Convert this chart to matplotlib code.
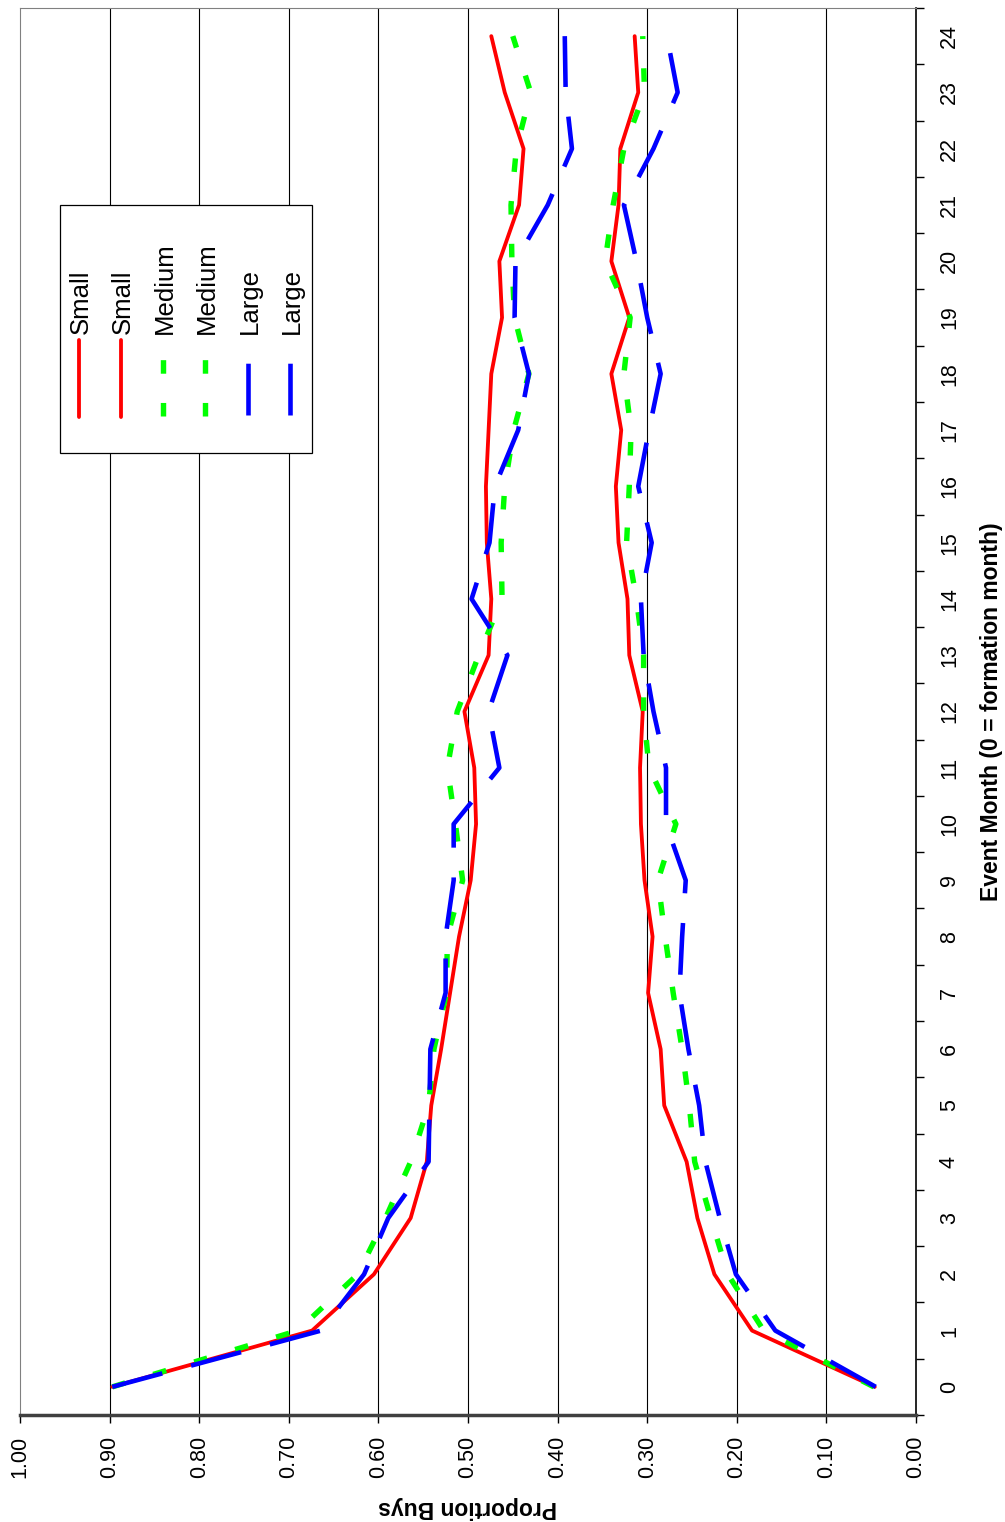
import numpy as np
import matplotlib
matplotlib.use("Agg")
import matplotlib.pyplot as plt
from matplotlib.patches import Rectangle
from matplotlib.lines import Line2D

plt.rcParams['font.family'] = ['Liberation Sans', 'DejaVu Sans']

# event months and proportion of buys
months = list(range(25))

small_hi = [0.897, 0.674, 0.605, 0.564, 0.546, 0.541, 0.530, 0.520, 0.510, 0.497, 0.491, 0.493, 0.504,
            0.477, 0.474, 0.479, 0.480, 0.477, 0.474, 0.462, 0.465, 0.443, 0.438, 0.459, 0.474]
small_lo = [0.046, 0.183, 0.225, 0.244, 0.256, 0.281, 0.285, 0.299, 0.294, 0.303, 0.307, 0.308, 0.305,
            0.320, 0.322, 0.332, 0.335, 0.329, 0.340, 0.320, 0.340, 0.332, 0.330, 0.310, 0.314]
med_hi = [0.897, 0.690, 0.623, 0.592, 0.564, 0.544, 0.538, 0.524, 0.523, 0.506, 0.514, 0.523, 0.512,
          0.488, 0.462, 0.463, 0.459, 0.449, 0.432, 0.448, 0.451, 0.452, 0.446, 0.430, 0.450]
med_lo = [0.047, 0.170, 0.210, 0.229, 0.247, 0.253, 0.261, 0.271, 0.280, 0.288, 0.268, 0.298, 0.304,
          0.304, 0.312, 0.323, 0.320, 0.318, 0.326, 0.319, 0.347, 0.338, 0.326, 0.303, 0.305]
large_hi = [0.897, 0.664, 0.616, 0.589, 0.544, 0.543, 0.542, 0.525, 0.525, 0.516, 0.516, 0.465, 0.477,
            0.456, 0.496, 0.476, 0.470, 0.444, 0.432, 0.448, 0.447, 0.411, 0.384, 0.391, 0.392]
large_lo = [0.045, 0.157, 0.201, 0.219, 0.235, 0.242, 0.254, 0.264, 0.261, 0.257, 0.279, 0.279, 0.293,
            0.304, 0.307, 0.295, 0.310, 0.298, 0.285, 0.300, 0.312, 0.326, 0.293, 0.266, 0.278]

legend_labels = ['Small', 'Small', 'Medium', 'Medium', 'Large', 'Large']
x_ticks = [0.0, 0.1, 0.2, 0.3, 0.4, 0.5, 0.6, 0.7, 0.8, 0.9, 1.0]

# line styles per size group
red = dict(color='#ff0000', lw=2.75, solid_capstyle='round', solid_joinstyle='round')
green = dict(color='#00ff00', lw=3.9, ls=(0, (2.5, 5.4)), dash_capstyle='butt')
blue = dict(color='#0000ff', lw=3.3, ls=(0, (11.3, 6.5)), dash_capstyle='butt')

fig = plt.figure(figsize=(10.05, 15.22), dpi=100)
# chart is turned on its side: value axis runs along the bottom, months up the right
ax = fig.add_axes([20 / 1005, 1 - 1415 / 1522, 896 / 1005, 1407 / 1522])

ax.plot(small_hi, months, **red)
ax.plot(small_lo, months, **red)
ax.plot(med_hi, months, **green)
ax.plot(med_lo, months, **green)
ax.plot(large_hi, months, **blue)
ax.plot(large_lo, months, **blue)

ax.set_xlim(1.0, 0.0)
ax.set_ylim(-0.5, 24.5)

ax.set_xticks(x_ticks)
ax.set_xticklabels(['%.2f' % v for v in x_ticks])
ax.tick_params(axis='x', direction='out', length=6, width=1, pad=9, labelsize=15.5, labelrotation=90)
for v in x_ticks[1:-1]:
    ax.axvline(v, color='black', lw=0.8, zorder=0)

ax.yaxis.tick_right()
ax.set_yticks(months)
ax.set_yticklabels([str(m) for m in months])
ax.set_yticks(np.arange(-0.5, 25, 1.0), minor=True)
ax.tick_params(axis='y', which='major', length=0, pad=16.5, labelsize=15.5, labelrotation=90)
ax.tick_params(axis='y', which='minor', direction='out', length=6, width=1)
for lbl in ax.get_yticklabels():
    lbl.set_va('center')

ax.spines['left'].set_color('#808080')
ax.spines['top'].set_color('#808080')
ax.spines['bottom'].set_color('#404040')
ax.spines['bottom'].set_linewidth(2.5)
ax.spines['right'].set_color('black')
ax.spines['right'].set_linewidth(1.2)

fig.text(468 / 1005, 0.0095, 'Proportion Buys', rotation=180, ha='center', va='center',
         fontsize=16.5, fontweight='bold')
fig.text(991 / 1005, 1 - 712 / 1522, 'Event Month (0 = formation month)', rotation=90,
         ha='center', va='center', fontsize=16.5, fontweight='bold')

# legend, drawn by hand because it is rotated too
def fx(px):
    return (px - 20) / 896.0


def fy(py):
    return (1415 - py) / 1407.0


ax.add_patch(Rectangle((fx(60), fy(453)), fx(312) - fx(60), fy(205) - fy(453),
                       transform=ax.transAxes, facecolor='white', edgecolor='black', lw=0.9, zorder=5))
styles = [red, red, green, green, blue, blue]
spans = [(417, 340), (417, 340), (416, 354), (416, 354), (415, 362), (415, 362)]
xs = [79, 121, 163, 205, 248, 290]
for lab, st, sp, xp in zip(legend_labels, styles, spans, xs):
    ax.add_line(Line2D([fx(xp), fx(xp)], [fy(sp[0]), fy(sp[1])], transform=ax.transAxes,
                       zorder=6, **st))
    ax.text(fx(xp + 2), fy(334), lab, transform=ax.transAxes, rotation=90, ha='center',
            va='bottom', fontsize=18.5, zorder=7)

plt.savefig('out.png', dpi=100)
